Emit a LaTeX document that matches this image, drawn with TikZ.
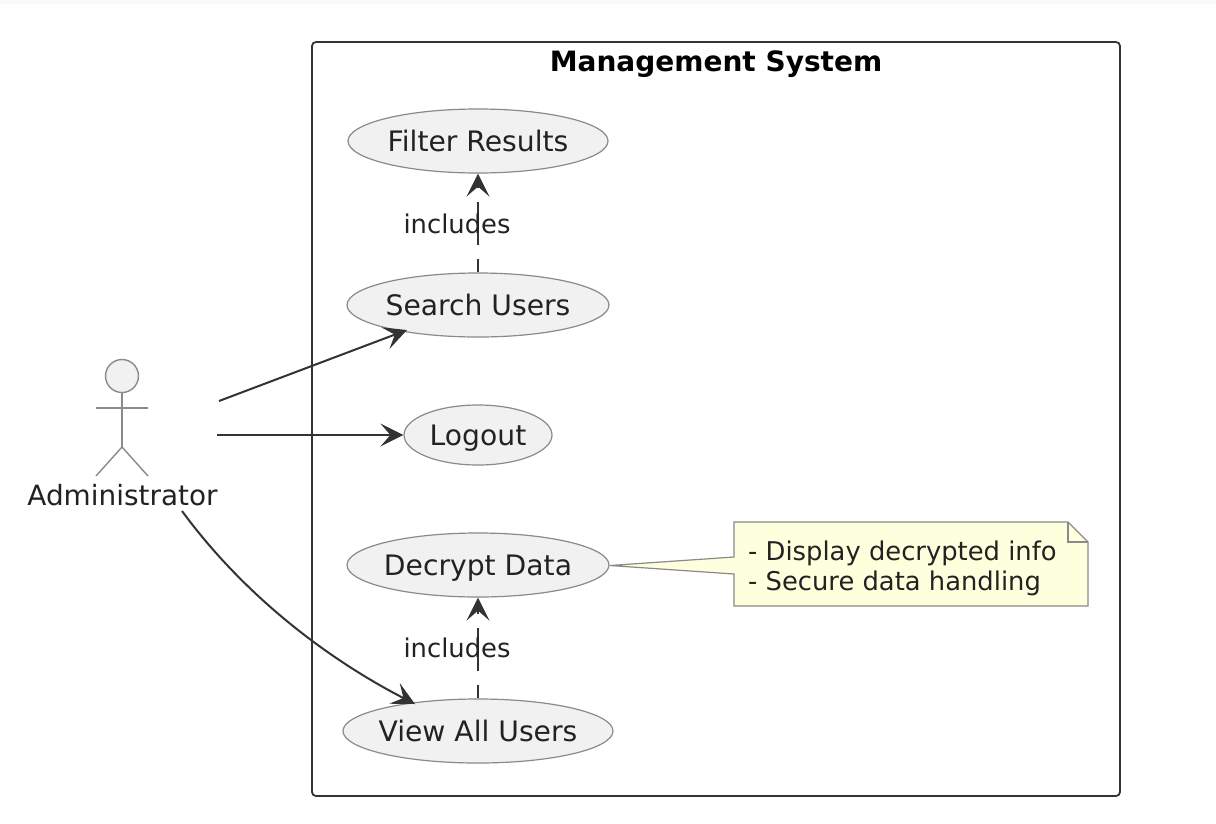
\documentclass[tikz,border=0pt]{standalone}
\usepackage{fontspec}
\setmainfont{DejaVu Sans}
\usetikzlibrary{arrows.meta,shapes.geometric}
\definecolor{ink}{HTML}{222222}
\definecolor{edge}{HTML}{333333}
\definecolor{soft}{HTML}{8A8A8A}
\definecolor{uc}{HTML}{F1F1F1}
\definecolor{notefill}{HTML}{FEFFDD}
\tikzset{
  x=1pt,y=-1pt,
  usecase/.style={ellipse,draw=soft,fill=uc,line width=1.2pt,inner xsep=-30pt,inner ysep=0pt,text=ink,text height=20pt,text depth=0pt,font=\fontsize{28.2}{32}\selectfont},
  lbl/.style={text=ink,inner sep=0pt,font=\fontsize{25.8}{30}\selectfont},
  tip/.style={-{Stealth[length=23pt,width=23pt,inset=10pt]}},
  assoc/.style={draw=edge,line width=2pt,tip},
  incl/.style={draw=edge,line width=1.7pt,tip,dash pattern=on 43pt off 14pt,dash phase=30pt},
  stick/.style={draw=soft,line width=1.4pt},
}
\begin{document}
\begin{tikzpicture}
\useasboundingbox (0,0) rectangle (1216,823);
\fill[white] (0,0) rectangle (1216,823);
\fill[black!2] (0,0) rectangle (1216,4);
\draw[draw=edge,line width=1.8pt,rounded corners=4pt] (312,42) rectangle (1120,796);
\node[text=black,inner sep=0pt,text height=20pt,text depth=0pt,font=\fontsize{28}{32}\selectfont\bfseries] (title) at (716,61) {Management System};

\node[usecase,minimum width=260pt,minimum height=64pt] (filter) at (478,141) {Filter Results};
\node[usecase,minimum width=262pt,minimum height=64pt] (search) at (478,305) {Search Users};
\node[usecase,minimum width=148pt,minimum height=60pt] (logout) at (478,435) {Logout};
\node[usecase,minimum width=262pt,minimum height=64pt] (decrypt) at (478,565) {Decrypt Data};
\node[usecase,minimum width=270pt,minimum height=64pt] (view) at (478,731) {View All Users};

% actor
\node[circle,draw=soft,fill=uc,line width=1.4pt,minimum size=33pt,inner sep=0pt] (head) at (122,376) {};
\coordinate (hip) at (122,447);
\coordinate (armL) at (96,408);
\coordinate (armR) at (148,408);
\coordinate (footL) at (96,476);
\coordinate (footR) at (148,476);
\draw[stick] (head.south) -- (hip);
\draw[stick] (armL) -- (armR);
\draw[stick] (footL) -- (hip) -- (footR);
\node[text=ink,inner sep=0pt,text height=20pt,text depth=0pt,font=\fontsize{27.9}{32}\selectfont] (admin) at (122.5,495) {Administrator};

\coordinate (a1) at (219,401);
\coordinate (a2) at (217,435);
\coordinate (a3) at (182,511);
\coordinate (s1) at (407,330);
\coordinate (v1) at (415,704);
\draw[assoc] (a1) -- (s1);
\draw[assoc] (a2) -- (logout.west);
\draw[assoc] (a3) .. controls (240,590) and (320,655) .. (v1);

\draw[incl] (search.north) -- (filter.south);
\draw[incl] (view.north) -- (decrypt.south);
\node[lbl] (inc1) at (457,224) {includes};
\node[lbl] (inc2) at (457,648) {includes};

% note
\draw[draw=soft,fill=notefill,line width=1.2pt,line join=miter]
  (734,522) -- (1068,522) -- (1088,542) -- (1088,606) -- (734,606) -- (734,574)
  -- (610,565.5) -- (734,557) -- cycle;
\draw[draw=soft,line width=1.2pt] (1068,522) -- (1068,542) -- (1088,542);
\node[anchor=north west,inner sep=0pt,text=ink,align=left,font=\fontsize{25.8}{30}\selectfont] (note) at (748,540.5) {- Display decrypted info\\- Secure data handling};
\end{tikzpicture}
\end{document}
